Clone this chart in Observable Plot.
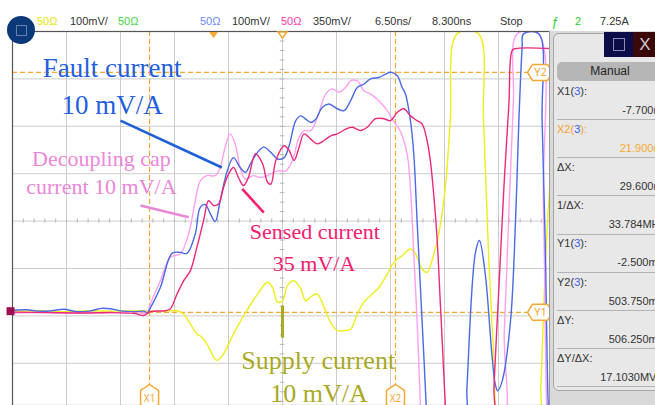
<!DOCTYPE html>
<html><head><meta charset="utf-8">
<script src="https://cdn.jsdelivr.net/npm/d3@7"></script>
<script src="https://cdn.jsdelivr.net/npm/@observablehq/plot@0.6"></script>
<style>
html,body{margin:0;padding:0;background:#fff;}
#wrap{position:relative;width:655px;height:405px;overflow:hidden;font-family:"Liberation Sans",Arial,sans-serif;}
#chart{position:absolute;left:0;top:0;}
.sb{position:absolute;top:15px;font-size:11px;line-height:13px;color:#333;white-space:nowrap;}
#menuDot{position:absolute;left:7px;top:16px;width:28px;height:28px;border-radius:50%;background:#0b3878;}
#menuDot i{position:absolute;left:9px;top:9px;width:9px;height:9px;border:1px solid #6b7fa8;}
#panelBg{position:absolute;left:549px;top:31px;width:106px;height:374px;background:#d9d9d9;border-left:1px solid #9a9a9a;}
#panelIn{position:absolute;left:553px;top:33px;width:110px;height:356px;background:#e8e8e8;border:1px solid #a5a5a5;border-radius:6px;}
#navy{position:absolute;left:604px;top:32px;width:29px;height:25px;background:#0c0c48;}
#navy i{position:absolute;left:9px;top:6px;width:10px;height:11px;border:1px solid #8a8fb0;}
#maroon{position:absolute;left:633px;top:32px;width:24px;height:25px;background:#3a0808;color:#ccc;font-size:17px;line-height:25px;text-align:center;}
#manual{position:absolute;left:557px;top:62px;width:106px;height:19px;background:#b6b6b6;border-radius:5px;font-size:12px;line-height:19px;text-align:center;color:#222;}
.lab{position:absolute;left:557px;font-size:11px;line-height:13px;color:#333;white-space:nowrap;}
.val{position:absolute;left:557px;width:108px;text-align:right;font-size:11px;line-height:13px;color:#333;white-space:nowrap;}
.sep{position:absolute;left:557px;width:100px;height:1px;background:#b4b4b4;}
.b{color:#3a5cf0;}
.o{color:#f5a02a;}
</style></head>
<body>
<div id="wrap">
  <div id="chart"></div>
  <div id="menuDot"><i></i></div>
  <div id="topbar"></div>
  <div id="panelBg"></div>
  <div id="panelIn"></div>
  <div id="navy"><i></i></div>
  <div id="maroon">X</div>
  <div id="manual">Manual</div>
  <div id="rows"></div>
</div>
<script>
// ---- scope settings (ns, mV on channel-3 screen scale) ----
const timeDomain = [-24.2, 40.8];      // 6.50 ns/div, 8.300 ns delay
const voltDomain = [-199, 590];        // 100 mV/div
const timeDivs = [-17.7, -11.2, -4.7, 1.8, 8.3, 14.8, 21.3, 27.8, 34.3];
const voltDivs = [-110, -10, 90, 190, 290, 390, 490];
const centerTime = 8.3;
const centerVolt = 190;
const minorTimes = d3.range(-24.2, 40.85, 1.3);
const minorVolts = d3.range(-190, 591, 20);
const cursorTimes = [-7.7, 21.9];
const cursorTimeLabels = ["X1", "X2"];
const cursorVolts = [-2.5, 503.75];
const cursorVoltLabels = ["Y1", "Y2"];
const triggerTimes = [0];

// ---- traces [ns, mV] ----
const supplyCurrent = [
  [-24.2,0],[-21,1],[-18,-1],[-15,1],[-12,0],[-9,1],[-6,0],[-4.4,1],[-3.6,-6],[-2.8,-27],[-2.0,-48],
  [-1.4,-55],[-0.8,-69],[0.4,-104],[1.2,-90],[2.4,-48],[4.0,1],[5.3,36],[6.5,61],[7.1,50],[7.7,19],
  [8.3,22],[8.9,54],[9.7,64],[10.5,47],[11.1,22],[11.9,33],[12.5,36],[13.3,8],[14.1,-24],[14.9,-41],
  [15.7,-41],[16.5,-38],[17.3,-6],[18.1,19],[18.9,33],[19.9,50],[20.9,78],[21.7,103],[22.7,117],
  [23.7,131],[24.3,121],[25.1,89],[25.7,82],[26.3,107],[27.1,163],[27.9,261],[28.5,402],[29.3,585],
  [31.9,585],[32.5,402],[33.1,121],[33.7,-90],[33.9,-200],[34.1,-260],[39.1,-260],[39.4,-161],
  [40.0,121],[40.6,296],[40.8,338]
];
const decouplingCurrent = [
  [-24.2,-4],[-20,-3],[-16,-4],[-12,-3],[-9,-4],[-8.0,-3],[-7.6,16],[-6.4,64],[-5.2,114],[-4.0,121],
  [-3.0,163],[-2.2,233],[-1.6,275],[-0.8,286],[0.2,286],[0.8,303],[1.4,346],[2.0,374],[2.6,353],
  [3.2,303],[3.8,279],[4.8,286],[5.6,282],[6.5,286],[7.7,296],[8.7,296],[9.5,318],[10.3,367],
  [10.9,381],[11.7,381],[12.5,409],[13.5,458],[14.3,469],[15.1,462],[15.9,472],[16.5,486],[17.3,486],
  [18.1,465],[18.9,458],[19.9,444],[20.9,423],[21.7,400],[22.5,379],[23.3,332],[23.7,261],[24.1,121],
  [24.5,-20],[24.9,-200],[25.0,-260],[34.3,-260],[35.0,-40],[35.6,233],[36.1,444],[36.55,585],
  [39.1,585],[39.7,233],[40.1,-200],[40.3,-260]
];
const faultCurrent = [
  [-24.2,2],[-22.5,3],[-21,0],[-19.5,1],[-18,4],[-16.5,-1],[-15,0],[-13.5,6],[-12.4,5],[-11,0],
  [-9.5,-1],[-8.4,0],[-7.95,-3],[-7.6,7],[-6.4,50],[-5.0,122],[-4.0,124],[-3.2,122],[-2.2,163],
  [-1.6,219],[-1.0,225],[-0.4,206],[0.2,189],[0.8,233],[1.65,296],[2.4,324],[3.2,303],[3.85,293],
  [4.45,311],[5.3,335],[6.05,346],[6.9,335],[7.7,321],[8.5,324],[9.1,349],[9.9,402],[10.5,412],
  [11.1,405],[11.7,398],[12.3,405],[13.1,430],[13.9,437],[14.9,427],[15.7,423],[16.5,444],[17.3,472],
  [18.1,479],[18.9,490],[19.9,493],[20.7,500],[21.3,504],[22.1,497],[22.7,472],[23.1,458],[23.7,402],
  [24.1,332],[24.5,191],[24.9,50],[25.3,-90],[25.6,-200],[25.8,-260],[30.2,-260],[30.5,-161],
  [31.5,121],[32.0,149],[32.7,79],[33.5,-90],[33.9,-153],[34.2,-168],[34.75,-147],[35.75,-20],
  [36.35,191],[36.75,402],[37.15,557],[37.3,585],[39.15,585],[39.55,402],[39.95,121],[40.3,-200],[40.55,-260]
];
const sensedCurrent = [
  [-24.2,-2],[-20,-3],[-16,-4],[-12,-3],[-9.5,-5],[-8.4,-9],[-7.6,-1],[-5.8,1],[-5.2,5],[-4.4,36],
  [-3.6,64],[-2.8,85],[-2.0,135],[-1.2,191],[-0.6,233],[0.0,223],[0.6,226],[1.2,261],[1.8,289],
  [2.4,303],[3.0,282],[3.6,265],[4.2,282],[5.05,332],[5.9,311],[6.5,272],[6.9,268],[7.5,318],
  [8.5,349],[9.1,339],[9.7,318],[10.3,346],[10.9,374],[11.7,363],[12.5,353],[13.3,360],[14.1,370],
  [14.9,374],[15.9,384],[16.7,388],[17.7,381],[18.5,388],[19.5,406],[20.5,406],[21.3,402],[22.1,419],
  [22.9,427],[23.7,412],[24.5,402],[25.1,395],[25.7,360],[26.1,317],[26.5,247],[26.9,156],[27.3,16],
  [27.7,-126],[27.9,-200],[28.0,-260],[33.6,-260],[33.75,-161],[34.35,50],[34.95,261],[35.55,437],
  [35.95,550],[36.35,554],[40.8,554]
];

// ---- annotations ----
const labelTexts = ["Fault current", "10 mV/A", "Decoupling cap", "current 10 mV/A", "Sensed current", "35 mV/A", "Supply current", "10 mV/A"];
const labelTimes = [-12.2, -12.2, -13.5, -13.5, 12.2, 12.1, 12.6, 12.7];
const labelVolts = [513, 435, 322, 263, 168, 100, -104, -175];
const labelSizes = [27, 27, 22, 22, 22, 22, 26, 26];
const labelColors = ["#1f5fe0", "#1f5fe0", "#ec86d8", "#ec86d8", "#f4206e", "#f4206e", "#a9a923", "#a9a923"];
const pointerLines = [
  {t1: -11.2, v1: 402, t2: 1.0, v2: 303, c: "#1f5fd8", w: 2.6},
  {t1: -8.8, v1: 223, t2: -3.0, v2: 198, c: "#ea88d6", w: 2.6},
  {t1: 3.45, v1: 258, t2: 6.05, v2: 208, c: "#f4206e", w: 2.6},
  {t1: 8.3, v1: 12, t2: 8.3, v2: -56, c: "#a9a923", w: 3}
];

// ---- status bar and readouts ----
const statusTexts = ["50Ω","100mV/","50Ω","50Ω","100mV/","50Ω","350mV/","6.50ns/","8.300ns","Stop","ƒ","2","7.25A"];
const statusColors = ["#e6e600","#333","#3fd43f","#6a86ff","#333","#ff3aa6","#333","#333","#333","#333","#2ecc2e","#2ecc2e","#333"];
const statusLefts = [37,70,118,200,232,281,313,375,432,500,551,575,600];
const readoutLabels = ["X1(<span class='b'>3</span>):", "<span class='o'>X2(</span><span class='b'>3</span><span class='o'>):</span>", "ΔX:", "1/ΔX:", "Y1(<span class='b'>3</span>):", "Y2(<span class='b'>3</span>):", "ΔY:", "ΔY/ΔX:"];
const readoutValues = ["-7.700ns", "21.900ns", "29.600ns", "33.784MHz", "-2.500mV", "503.750mV", "506.250mV", "17.1030MV/s"];

// custom symbols
const hexUp = {draw(ctx){ctx.moveTo(0,-12);ctx.lineTo(9,-6);ctx.lineTo(9,8);ctx.lineTo(0,14);ctx.lineTo(-9,8);ctx.lineTo(-9,-6);ctx.closePath();}};
const hexSide = {draw(ctx){ctx.moveTo(-12,0);ctx.lineTo(-7,-8);ctx.lineTo(8,-8);ctx.lineTo(13,0);ctx.lineTo(8,8);ctx.lineTo(-7,8);ctx.closePath();}};
const triDown = {draw(ctx){ctx.moveTo(-4.5,-3);ctx.lineTo(4.5,-3);ctx.lineTo(0,3);ctx.closePath();}};

const orange = "#f5a833";
const T = d => d[0], V = d => d[1];
const traceOpts = (c) => ({x: T, y: V, stroke: c, strokeWidth: 1.4, curve: "catmull-rom", clip: true});

const chart = Plot.plot({
  width: 655, height: 405,
  marginLeft: 12, marginRight: 103, marginTop: 31, marginBottom: 0,
  x: {domain: timeDomain, axis: null},
  y: {domain: voltDomain, axis: null},
  style: {background: "#fff"},
  marks: [
    Plot.gridX(timeDivs, {stroke: "#cdcdcd", strokeOpacity: 1}),
    Plot.gridY(voltDivs, {stroke: "#cdcdcd", strokeOpacity: 1}),
    Plot.ruleX(minorTimes, {x: d => d, y1: centerVolt - 4.5, y2: centerVolt + 4.5, stroke: "#b5b5b5"}),
    Plot.ruleY(minorVolts, {y: d => d, x1: centerTime - 0.27, x2: centerTime + 0.27, stroke: "#b5b5b5"}),
    Plot.ruleX(cursorTimes, {x: d => d, stroke: orange, strokeDasharray: "5,3", strokeWidth: 1.2}),
    Plot.ruleY(cursorVolts, {y: d => d, stroke: orange, strokeDasharray: "5,3", strokeWidth: 1.2}),
    Plot.line(supplyCurrent, traceOpts("#eeee1c")),
    Plot.line(decouplingCurrent, traceOpts("#ffa0f2")),
    Plot.line(faultCurrent, traceOpts("#4a6ae6")),
    Plot.line(sensedCurrent, traceOpts("#ec2a7c")),
    Plot.frame({stroke: "#555", strokeWidth: 1.2}),
    Plot.dot(triggerTimes, {x: d => d, frameAnchor: "top", dy: 3.5, symbol: triDown, fill: orange, stroke: "none"}),
    Plot.dot([centerTime], {x: d => d, frameAnchor: "top", dy: 3.5, symbol: triDown, fill: "#fff", stroke: orange}),
    Plot.dot([0], {y: d => d, frameAnchor: "left", dx: -2, symbol: "square", r: 4.5, fill: "#9c1050"}),
    Plot.dot(cursorTimes, {x: d => d, frameAnchor: "bottom", dy: -9, symbol: hexUp, fill: "#fff", stroke: orange}),
    Plot.text(cursorTimes, {x: d => d, frameAnchor: "bottom", dy: -4, text: (d, i) => cursorTimeLabels[i], fill: orange, fontSize: 10, textAnchor: "middle"}),
    Plot.dot(cursorVolts, {y: d => d, frameAnchor: "right", dx: -13, symbol: hexSide, fill: "#fff", stroke: orange}),
    Plot.text(cursorVolts, {y: d => d, frameAnchor: "right", dx: -12, text: (d, i) => cursorVoltLabels[i], fill: orange, fontSize: 11, textAnchor: "middle", lineAnchor: "middle"}),
    Plot.link(pointerLines, {x1: "t1", y1: "v1", x2: "t2", y2: "v2", stroke: "c", strokeWidth: "w"}),
    Plot.text(labelTexts, {x: (d, i) => labelTimes[i], y: (d, i) => labelVolts[i], text: d => d,
      fill: (d, i) => labelColors[i], fontSize: (d, i) => labelSizes[i], fontFamily: "Liberation Serif",
      textAnchor: "middle", lineAnchor: "middle"})
  ]
});
document.getElementById("chart").appendChild(chart);

const tb = document.getElementById("topbar");
statusTexts.forEach((s, i) => {
  const e = document.createElement("div");
  e.className = "sb"; e.textContent = s; e.style.left = statusLefts[i] + "px"; e.style.color = statusColors[i];
  if (s === "ƒ") { e.style.fontSize = "13px"; e.style.fontStyle = "italic"; }
  tb.appendChild(e);
});
const rows = document.getElementById("rows");
readoutLabels.forEach((s, i) => {
  const top = 91 + 38.2 * i;
  const l = document.createElement("div");
  l.className = "lab"; l.innerHTML = s; l.style.top = (top - 6.5) + "px";
  if (i === 1) l.style.color = orange;
  rows.appendChild(l);
  const v = document.createElement("div");
  v.className = "val"; v.textContent = readoutValues[i]; v.style.top = (top + 19 - 6.5) + "px";
  if (i === 1) v.style.color = orange;
  rows.appendChild(v);
  const sp = document.createElement("div");
  sp.className = "sep"; sp.style.top = (top + 28) + "px";
  rows.appendChild(sp);
});
</script>
</body></html>
